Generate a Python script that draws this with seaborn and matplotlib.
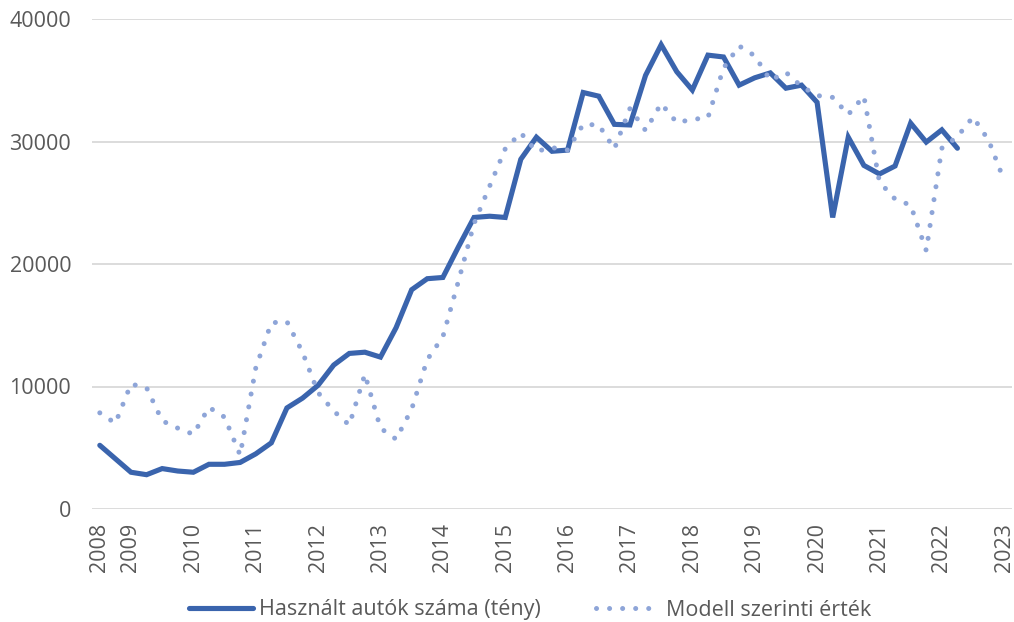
import numpy as np
import pandas as pd
import matplotlib
matplotlib.use("Agg")
import matplotlib.pyplot as plt
import seaborn as sns

sns.set_theme(style="white")
plt.rcParams['font.family'] = ['Open Sans', 'DejaVu Sans']

# Quarterly series, first point = 2008 Q3
actual = [5200, 4100, 3000, 2800, 3300, 3100, 3000, 3650, 3650, 3800,
          4500, 5400, 8250, 9050, 10100, 11750, 12700, 12800, 12400, 14800,
          17900, 18800, 18900, 21400, 23800, 23900, 23800, 28550, 30350, 29200,
          29300, 34000, 33700, 31400, 31350, 35400, 37900, 35700, 34200, 37050,
          36900, 34600, 35200, 35600, 34350, 34600, 33200, 23800, 30350, 28050,
          27350, 28000, 31500, 29950, 30950, 29450]
model = [7850, 7000, 10200, 9900, 7200, 6600, 6100, 8300, 7500, 4400,
         11500, 15200, 15300, 12800, 9500, 8000, 6850, 11000, 6600, 5700,
         8150, 12200, 14050, 18600, 23300, 26350, 29400, 30700, 29200, 29500,
         29300, 31400, 31350, 29400, 32700, 30900, 33100, 31550, 31800, 31950,
         36000, 37800, 37000, 35000, 35650, 34500, 33750, 33600, 32200, 33700,
         26700, 25300, 24800, 21100, 29450, 30400, 32000, 30100, 26800]
year_labels = ['2008', '2009', '2010', '2011', '2012', '2013', '2014', '2015',
               '2016', '2017', '2018', '2019', '2020', '2021', '2022', '2023']
year_ticks = [0, 2, 6, 10, 14, 18, 22, 26, 30, 34, 38, 42, 46, 50, 54, 58]
y_ticks = [0, 10000, 20000, 30000, 40000]

df_actual = pd.DataFrame({'q': np.arange(len(actual)), 'v': actual})
df_model = pd.DataFrame({'q': np.arange(len(model)), 'v': model})

SOLID = '#3A64AD'
DOTTED = '#8EA5D8'
TEXT = '#595959'

fig = plt.figure(figsize=(10.14, 6.22), dpi=100)
ax = fig.add_axes([92 / 1014, 1 - 509 / 622, 920 / 1014, 490 / 622])

sns.lineplot(data=df_actual, x='q', y='v', ax=ax, color=SOLID, lw=3.7,
             solid_joinstyle='miter', label='Használt autók száma (tény)')
sns.lineplot(data=df_model, x='q', y='v', ax=ax, color=DOTTED, lw=3.6,
             linestyle=(0, (0.01, 2.6)), dash_capstyle='round',
             label='Modell szerinti érték')

ax.set_xlim(-0.5, 58.5)
ax.set_ylim(0, 40000)
ax.set_yticks(y_ticks)
ax.set_yticklabels([str(t) for t in y_ticks])
ax.set_xticks(year_ticks)
ax.set_xticklabels(year_labels, rotation=90)
ax.tick_params(axis='both', length=0, labelsize=15.5, labelcolor=TEXT)
ax.tick_params(axis='y', pad=15)
ax.tick_params(axis='x', pad=10)
ax.set_xlabel('')
ax.set_ylabel('')
ax.grid(axis='y', color='#D9D9D9', lw=1.3)
ax.set_axisbelow(True)
for s in ax.spines.values():
    s.set_visible(False)

handles, labels = ax.get_legend_handles_labels()
ax.get_legend().remove()
fig.legend(handles, labels, loc='center', bbox_to_anchor=(530 / 1014, 12 / 622),
           ncol=2, frameon=False, fontsize=15.5, labelcolor=TEXT,
           handlelength=3.0, handletextpad=0.25, columnspacing=2.6,
           borderaxespad=0)

fig.savefig('out.png', dpi=100)
